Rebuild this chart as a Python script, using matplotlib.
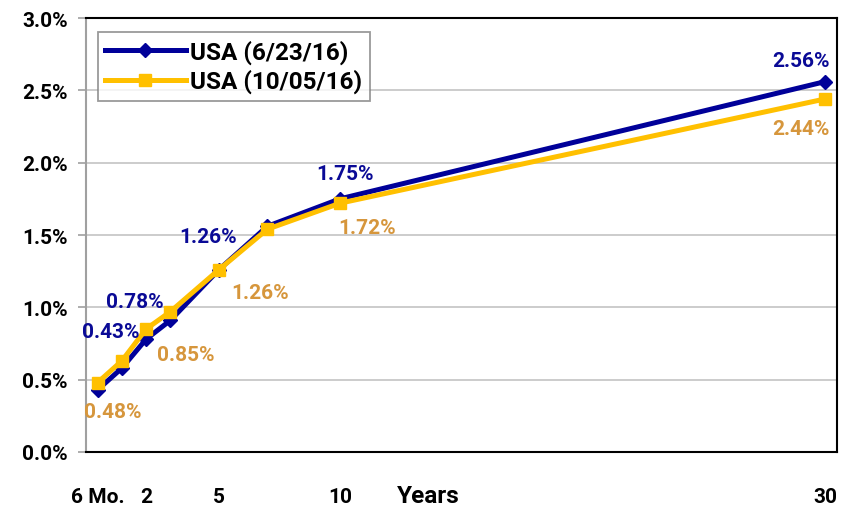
import matplotlib
matplotlib.use("Agg")
import matplotlib.pyplot as plt
from matplotlib.ticker import FuncFormatter

plt.rcParams['font.family'] = ['Roboto', 'DejaVu Sans']
plt.rcParams['font.weight'] = 'bold'

# Data
maturity_pos = [0, 1, 2, 3, 5, 7, 10, 30]
tick_positions = [0, 2, 5, 10, 30]
tick_labels = ["6 Mo.", "2", "5", "10", "30"]
usa_jun = [0.43, 0.58, 0.78, 0.91, 1.26, 1.56, 1.75, 2.56]
usa_oct = [0.48, 0.63, 0.85, 0.97, 1.26, 1.54, 1.72, 2.44]
series_names = ["USA (6/23/16)", "USA (10/05/16)"]

# labels: (index, offset px)
jun_labels = [(0, (13, 58)), (2, (-11, 38)), (4, (-11, 33)), (6, (5, 25)), (7, (-24, 21))]
oct_labels = [(0, (15, -29)), (2, (40, -25)), (4, (41, -23)), (6, (27, -24)), (7, (-24, -29))]

blue = "#000099"
yellow = "#FFC000"
blue_txt = "#0A0A96"
orange_txt = "#D6963C"

fig = plt.figure(figsize=(8.43, 5.10), dpi=100)
ax = fig.add_axes([86 / 843, 1 - 453 / 510, (837 - 86) / 843, (453 - 19) / 510])

ax.plot(maturity_pos, usa_jun, color=blue, lw=3.6, marker='D', markersize=7,
        label=series_names[0], zorder=3)
ax.plot(maturity_pos, usa_oct, color=yellow, lw=3.6, marker='s', markersize=8.5,
        label=series_names[1], zorder=4)

fs = 15
for i, off in jun_labels:
    ax.annotate(f"{usa_jun[i]:.2f}%", (maturity_pos[i], usa_jun[i]), xytext=off,
                textcoords='offset pixels', ha='center', va='center',
                color=blue_txt, fontsize=fs, fontweight='bold', zorder=5)
for i, off in oct_labels:
    ax.annotate(f"{usa_oct[i]:.2f}%", (maturity_pos[i], usa_oct[i]), xytext=off,
                textcoords='offset pixels', ha='center', va='center',
                color=orange_txt, fontsize=fs, fontweight='bold', zorder=5)

ax.set_xlim(-0.48, 30.5)
ax.set_ylim(0, 3.0)
ax.set_yticks([0, 0.5, 1.0, 1.5, 2.0, 2.5, 3.0])
ax.yaxis.set_major_formatter(FuncFormatter(lambda v, p: f"{v:.1f}%"))
ax.set_xticks(tick_positions)
ax.set_xticklabels(tick_labels)
ax.tick_params(axis='x', length=0, pad=25, labelsize=fs)
ax.tick_params(axis='y', length=6, width=1.2, color='#A0A0A0', pad=7, labelsize=fs)
for lab in ax.get_xticklabels() + ax.get_yticklabels():
    lab.set_fontweight('bold')

ax.grid(axis='y', color='#C8C8C8', lw=1.3, zorder=0)
ax.set_axisbelow(True)
ax.spines['left'].set_color('#A0A0A0')
ax.spines['left'].set_linewidth(1.5)
for s in ['top', 'right', 'bottom']:
    ax.spines[s].set_color('black')
    ax.spines[s].set_linewidth(1.5)

fig.text(428 / 843, 1 - 497 / 510, "Years", ha='center', va='center',
         fontsize=17.5, fontweight='bold')

leg = ax.legend(loc='upper left', bbox_to_anchor=((98 - 86) / 751, 1 - (33 - 19) / 434),
                fontsize=17.5, frameon=True, fancybox=False, edgecolor='#808080',
                handlelength=3.3, borderpad=0.3, labelspacing=0.22, handletextpad=0.2,
                borderaxespad=0)
leg.get_frame().set_linewidth(1.3)
for t in leg.get_texts():
    t.set_fontweight('bold')

fig.savefig("out.png", dpi=100)
